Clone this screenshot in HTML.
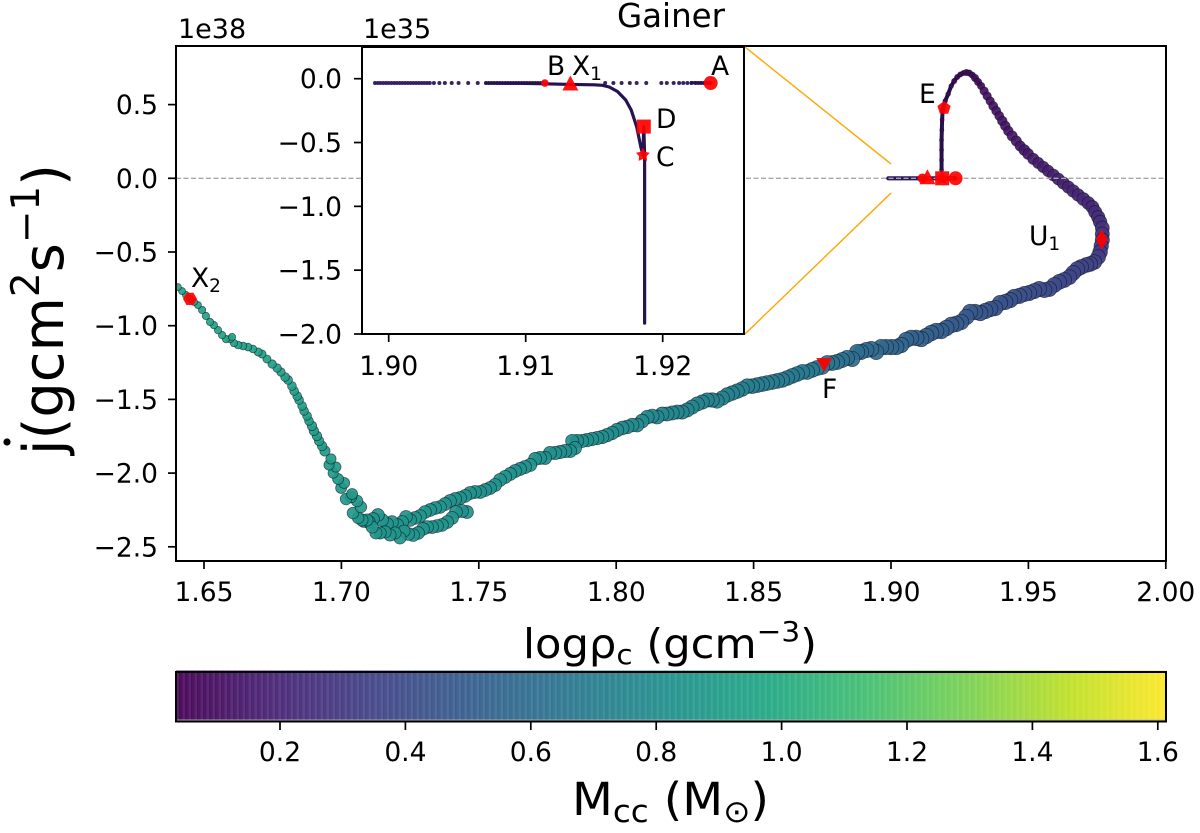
<!DOCTYPE html>
<html>
<head>
<meta charset="utf-8">
<title>Gainer</title>
<style>
html,body{margin:0;padding:0;background:#fff;}
svg{display:block;}
text{font-family:"DejaVu Sans","Liberation Sans",sans-serif;fill:#000;}
</style>
</head>
<body>
<svg id="chart" xmlns="http://www.w3.org/2000/svg" width="1200" height="833" viewBox="0 0 1200 833">
<defs><clipPath id="mainClip"><rect x="176" y="46" width="990" height="515"/></clipPath></defs>
<rect x="0" y="0" width="1200" height="833" fill="#fff"/>
<g id="mainSeries" clip-path="url(#mainClip)"></g>
<line id="zeroLine" x1="176" x2="1166" stroke="#a8a8a8" stroke-width="1.3" stroke-dasharray="5 2.5"/>
<g id="mainMarkers"></g>
<rect x="176" y="46" width="990" height="515" fill="none" stroke="#000" stroke-width="2"/>
<g id="mainTicks"></g>
<line x1="745" y1="47" x2="891" y2="164" stroke="#ffa500" stroke-width="1.4"/>
<line x1="745" y1="334" x2="891" y2="193" stroke="#ffa500" stroke-width="1.4"/>
<rect x="362" y="47" width="382" height="287" fill="#fff"/>
<g id="insetSeries"></g>
<g id="insetMarkers"></g>
<rect x="362" y="47" width="382" height="287" fill="none" stroke="#000" stroke-width="2"/>
<g id="insetTicks"></g>
<text x="671" y="27" font-size="32.5" text-anchor="middle">Gainer</text>
<text x="178" y="38" font-size="27">1e38</text>
<text x="363" y="38" font-size="27">1e35</text>
<text x="711" y="75" font-size="26.5">A</text>
<text x="547" y="75" font-size="26.5">B</text>
<text x="572" y="75" font-size="26.5">X<tspan font-size="18.5" dy="5">1</tspan></text>
<text x="656" y="128" font-size="26.5">D</text>
<text x="656" y="166" font-size="26.5">C</text>
<text x="191" y="287" font-size="26.5">X<tspan font-size="18.5" dy="5">2</tspan></text>
<text x="919" y="103" font-size="26.5">E</text>
<text x="1029" y="245" font-size="26.5">U<tspan font-size="18.5" dy="5">1</tspan></text>
<text x="822" y="398" font-size="26.5">F</text>
<text x="523" y="658" font-size="41" textLength="294" lengthAdjust="spacingAndGlyphs">logρ<tspan font-size="28" dy="6">c</tspan><tspan dy="-6"> (gcm</tspan><tspan font-size="28" dy="-17">−3</tspan><tspan dy="17">)</tspan></text>
<g>
<text transform="translate(63,455) rotate(-90)" font-size="56" textLength="291" lengthAdjust="spacingAndGlyphs">j(gcm<tspan font-size="39" dy="-24">2</tspan><tspan dy="24">s</tspan><tspan font-size="39" dy="-24">−1</tspan><tspan dy="24">)</tspan></text>
<circle cx="7" cy="442" r="3.6" fill="#000"/>
</g>
<g id="colorbar"></g>
<rect x="176" y="719.5" width="990" height="1.6" fill="#b9b4c0" opacity="0.85"/>
<rect x="176" y="672" width="990" height="49.5" fill="none" stroke="#000" stroke-width="2"/>
<g id="colorbarTicks"></g>
<text x="572" y="815" font-size="45" textLength="197" lengthAdjust="spacingAndGlyphs">M<tspan font-size="31" dy="7">cc</tspan><tspan dy="-7"> (M</tspan><tspan font-size="31" dy="7">⊙</tspan><tspan dy="-7">)</tspan></text>
</svg>
<script>
const logRho = [
1.9184,1.9184,1.9184,1.9184,1.9185,1.9186,1.9188,1.9197,1.9208,1.9219,
1.923,1.9241,1.9252,1.9263,1.9274,1.9285,1.9296,1.9306,1.9317,1.9328,
1.9339,1.935,1.9361,1.9372,1.9383,1.9394,1.9405,1.9416,1.9427,1.9441,
1.9456,1.947,1.9485,1.9499,1.9518,1.9536,1.9554,1.9572,1.9591,1.9609,
1.9627,1.9645,1.9663,1.9681,1.97,1.9718,1.9733,1.9743,1.9754,1.9761,
1.9769,1.9769,1.9769,1.9765,1.9761,1.9754,1.974,1.9725,1.9711,1.9692,
1.9678,1.9663,1.9649,1.963,1.9612,1.9594,1.9576,1.9558,1.9539,1.9521,
1.9503,1.9485,1.9467,1.9448,1.9434,1.9416,1.9397,1.9379,1.9361,1.9343,
1.9325,1.9306,1.9288,1.9274,1.9255,1.9237,1.9219,1.9201,1.9183,1.9164,
1.9146,1.9128,1.911,1.9092,1.9073,1.9055,1.9037,1.9019,1.9001,1.8982,
1.8964,1.8946,1.8928,1.891,1.8891,1.8877,1.8859,1.884,1.8822,1.8804,
1.8786,1.8768,1.8749,1.8731,1.8713,1.8695,1.8677,1.8658,1.864,1.8622,
1.8604,1.8586,1.8568,1.8549,1.8531,1.8513,1.8495,1.8477,1.8458,1.844,
1.8422,1.8404,1.8386,1.8367,1.8349,1.8331,1.8313,1.8295,1.8276,1.8258,
1.824,1.8222,1.8204,1.8185,1.8167,1.8149,1.8131,1.8113,1.8094,1.8076,
1.8058,1.804,1.8022,1.8003,1.7985,1.7967,1.7949,1.7931,1.7912,1.7894,
1.7876,1.7858,1.784,1.785,1.7832,1.7814,1.7796,1.7778,1.7759,1.7741,
1.7723,1.7705,1.7687,1.7668,1.765,1.7632,1.7614,1.7596,1.7577,1.7559,
1.7541,1.7523,1.7505,1.7486,1.7468,1.745,1.7432,1.7414,1.7395,1.7377,
1.7359,1.7341,1.7323,1.7304,1.7286,1.7268,1.725,1.7235,1.7221,1.7203,
1.7184,1.7166,1.7148,1.7133,1.7115,1.71,1.7082,1.7457,1.7439,1.7417,
1.7403,1.7385,1.7366,1.7348,1.733,1.7312,1.7297,1.7279,1.7261,1.7243,
1.7228,1.7213,1.7195,1.7177,1.7159,1.7141,1.7126,1.7112,1.7093,1.7075,
1.7061,1.7042,1.7071,1.7057,1.7035,1.7017,1.7039,1.6999,1.701,1.6988,
1.697,1.698,1.6955,1.6962,1.694,1.693,1.6919,1.6911,1.69,1.6893,
1.6882,1.6875,1.6864,1.6857,1.6846,1.6839,1.6828,1.682,1.6806,1.6795,
1.678,1.6766,1.6748,1.6729,1.6711,1.6697,1.6678,1.666,1.6642,1.6624,
1.6609,1.6595,1.658,1.6602,1.6566,1.6551,1.6536,1.6522,1.6507,1.6493,
1.6478,1.6464,1.6449,1.6434,1.642,1.6405
];
const jDot = [
0.056,0.124,0.192,0.26,0.328,0.396,0.463,0.524,0.572,0.626,
0.66,0.687,0.704,0.714,0.718,0.714,0.70,0.68,0.653,0.626,
0.592,0.558,0.524,0.49,0.457,0.423,0.389,0.355,0.321,0.287,
0.253,0.219,0.192,0.165,0.131,0.104,0.077,0.05,0.022,-0.005,
-0.032,-0.059,-0.086,-0.113,-0.141,-0.168,-0.195,-0.229,-0.263,-0.296,
-0.337,-0.378,-0.419,-0.459,-0.50,-0.534,-0.568,-0.581,-0.588,-0.602,
-0.615,-0.642,-0.67,-0.69,-0.703,-0.724,-0.751,-0.758,-0.751,-0.765,
-0.778,-0.785,-0.798,-0.805,-0.826,-0.839,-0.846,-0.88,-0.887,-0.90,
-0.914,-0.907,-0.907,-0.941,-0.975,-0.988,-0.995,-1.016,-1.036,-1.036,
-1.05,-1.07,-1.09,-1.083,-1.083,-1.097,-1.131,-1.145,-1.145,-1.145,
-1.145,-1.178,-1.158,-1.165,-1.178,-1.178,-1.226,-1.219,-1.233,-1.246,
-1.253,-1.253,-1.28,-1.287,-1.30,-1.314,-1.314,-1.328,-1.341,-1.355,
-1.368,-1.375,-1.382,-1.389,-1.396,-1.403,-1.41,-1.41,-1.43,-1.444,
-1.457,-1.47,-1.491,-1.511,-1.504,-1.504,-1.518,-1.531,-1.552,-1.572,
-1.586,-1.586,-1.592,-1.599,-1.599,-1.62,-1.613,-1.62,-1.647,-1.674,
-1.674,-1.687,-1.694,-1.708,-1.728,-1.742,-1.755,-1.762,-1.769,-1.776,
-1.782,-1.782,-1.782,-1.83,-1.85,-1.85,-1.857,-1.864,-1.864,-1.897,
-1.897,-1.904,-1.945,-1.959,-1.972,-1.986,-2.006,-2.026,-2.047,-2.081,
-2.101,-2.115,-2.128,-2.128,-2.135,-2.155,-2.169,-2.176,-2.189,-2.21,
-2.23,-2.237,-2.25,-2.264,-2.291,-2.304,-2.318,-2.297,-2.332,-2.352,
-2.332,-2.345,-2.318,-2.284,-2.311,-2.332,-2.325,-2.264,-2.257,-2.264,
-2.304,-2.332,-2.352,-2.359,-2.366,-2.366,-2.379,-2.406,-2.42,-2.413,
-2.393,-2.44,-2.406,-2.42,-2.399,-2.406,-2.406,-2.366,-2.318,-2.318,
-2.304,-2.271,-2.23,-2.189,-2.162,-2.176,-2.142,-2.101,-2.067,-2.04,
-2.0,-1.959,-1.945,-1.904,-1.85,-1.816,-1.782,-1.748,-1.714,-1.68,
-1.646,-1.612,-1.578,-1.544,-1.504,-1.477,-1.443,-1.409,-1.368,-1.348,
-1.314,-1.287,-1.26,-1.226,-1.192,-1.178,-1.158,-1.145,-1.138,-1.131,
-1.118,-1.091,-1.091,-1.077,-1.064,-1.03,-0.996,-0.975,-0.934,-0.893,
-0.86,-0.839,-0.818,-0.791,-0.765,-0.738
];
const mcc = [
0.05,0.05,0.05,0.05,0.05,0.05,0.06,0.06,0.06,0.06,
0.07,0.07,0.07,0.07,0.08,0.08,0.08,0.09,0.09,0.09,
0.10,0.10,0.10,0.11,0.11,0.11,0.12,0.12,0.12,0.13,
0.13,0.13,0.14,0.14,0.15,0.15,0.16,0.16,0.17,0.17,
0.18,0.18,0.19,0.19,0.20,0.20,0.21,0.22,0.23,0.24,
0.26,0.27,0.28,0.29,0.30,0.32,0.34,0.35,0.35,0.36,
0.36,0.37,0.37,0.38,0.38,0.39,0.39,0.40,0.40,0.41,
0.41,0.42,0.42,0.43,0.43,0.44,0.44,0.45,0.45,0.46,
0.46,0.47,0.47,0.48,0.48,0.49,0.49,0.50,0.50,0.51,
0.51,0.52,0.52,0.53,0.53,0.54,0.54,0.55,0.55,0.56,
0.56,0.57,0.58,0.58,0.59,0.60,0.60,0.61,0.62,0.63,
0.64,0.65,0.66,0.66,0.67,0.67,0.67,0.68,0.68,0.68,
0.69,0.69,0.69,0.70,0.70,0.70,0.71,0.71,0.71,0.72,
0.72,0.72,0.73,0.73,0.73,0.74,0.74,0.74,0.75,0.75,
0.75,0.76,0.76,0.76,0.77,0.77,0.77,0.78,0.78,0.78,
0.79,0.79,0.79,0.80,0.80,0.80,0.81,0.81,0.81,0.81,
0.82,0.82,0.82,0.82,0.82,0.82,0.82,0.82,0.82,0.82,
0.83,0.83,0.83,0.83,0.83,0.83,0.83,0.83,0.83,0.83,
0.84,0.84,0.84,0.84,0.84,0.84,0.84,0.84,0.84,0.84,
0.85,0.85,0.85,0.85,0.85,0.85,0.85,0.85,0.85,0.85,
0.85,0.85,0.85,0.85,0.85,0.85,0.85,0.84,0.84,0.84,
0.85,0.85,0.85,0.85,0.85,0.85,0.85,0.85,0.85,0.85,
0.86,0.86,0.86,0.86,0.86,0.86,0.86,0.86,0.86,0.86,
0.87,0.87,0.87,0.87,0.87,0.87,0.88,0.88,0.88,0.88,
0.89,0.89,0.89,0.89,0.89,0.90,0.90,0.90,0.90,0.90,
0.91,0.91,0.91,0.91,0.91,0.91,0.91,0.91,0.91,0.91,
0.92,0.92,0.92,0.93,0.93,0.93,0.94,0.94,0.94,0.94,
0.95,0.95,0.95,0.95,0.95,0.95,0.95,0.95,0.95,0.95,
0.96,0.96,0.96,0.96,0.96,0.96
];
const rowRho = [
1.8990,1.8992,1.8994,1.8996,1.8998,1.9000,1.9002,1.9004,1.9006,1.9008,
1.9010,1.9012,1.9014,1.9016,1.9018,1.9020,1.9022,1.9024,1.9026,1.9028,
1.9030,1.9033,1.9037,1.9041,1.9046,1.9051,1.9058,1.9065,1.9071,1.9073,
1.9075,1.9077,1.9079,1.9081,1.9083,1.9085,1.9087,1.9089,1.9091,1.9093,
1.9095,1.9097,1.9099,1.9101,1.9103,1.9105,1.9107,1.9109,1.9111,1.9113,
1.9158,1.9164,1.9170,1.9176,1.9181,1.9188,1.9199,1.9203,1.9208,1.9212,
1.9215,1.9218,1.9221,1.9224,1.9226,1.9228,1.9230,1.9232,1.9234,1.9235
];
const rowJ = [
-0.034,-0.034,-0.034,-0.034,-0.034,-0.034,-0.034,-0.034,-0.034,-0.034,
-0.034,-0.034,-0.034,-0.034,-0.034,-0.034,-0.034,-0.034,-0.034,-0.034,
-0.034,-0.034,-0.034,-0.034,-0.034,-0.034,-0.034,-0.034,-0.034,-0.034,
-0.034,-0.034,-0.034,-0.034,-0.034,-0.034,-0.034,-0.034,-0.034,-0.034,
-0.034,-0.034,-0.034,-0.034,-0.034,-0.034,-0.034,-0.034,-0.034,-0.034,
-0.034,-0.034,-0.034,-0.034,-0.034,-0.034,-0.034,-0.034,-0.034,-0.034,
-0.034,-0.034,-0.034,-0.034,-0.034,-0.034,-0.034,-0.034,-0.034,-0.034
];
const curveRho = [1.9071,1.9095,1.9114,1.9133,1.9150,1.9156,1.9161,1.9167,1.9173,1.9177,1.9181,1.9184,1.91855,1.91862,1.91868,1.91868,1.91868,1.91868,1.91868];
const curveJ = [-0.034,-0.036,-0.04,-0.045,-0.048,-0.052,-0.065,-0.10,-0.167,-0.245,-0.376,-0.533,-0.598,-0.375,-0.6,-0.9,-1.3,-1.7,-1.915];
const endRho = [1.9220,1.9235];
const endJ = [-0.032,-0.034];

const markerNames = ['A','B','X1','C','D','E','U1','F','X2'];
const markerShapes = ['circle','smallCircle','triangle','star','square','pentagon','diamond','triangleDown','hexagon'];
const markerRho = [1.9235,1.9114,1.91326,1.91855,1.91862,1.9193,1.9767,1.8757,1.6449];
const markerJMain = [0,0,0,0,0,0.476,-0.414,-1.26,-0.818];
const insetMarkerJ = [-0.034,-0.034,-0.045,-0.598,-0.375];

const mainXTicks = [1.65,1.70,1.75,1.80,1.85,1.90,1.95,2.00];
const mainXTickLabels = ['1.65','1.70','1.75','1.80','1.85','1.90','1.95','2.00'];
const mainYTicks = [0.5,0,-0.5,-1,-1.5,-2,-2.5];
const mainYTickLabels = ['0.5','0.0','−0.5','−1.0','−1.5','−2.0','−2.5'];
const insetXTicks = [1.90,1.91,1.92];
const insetXTickLabels = ['1.90','1.91','1.92'];
const insetYTicks = [0,-0.5,-1,-1.5,-2];
const insetYTickLabels = ['0.0','−0.5','−1.0','−1.5','−2.0'];
const barTicks = [0.2,0.4,0.6,0.8,1.0,1.2,1.4,1.6];
const barTickLabels = ['0.2','0.4','0.6','0.8','1.0','1.2','1.4','1.6'];

const NS = 'http://www.w3.org/2000/svg';
const mainX = v => 204 + (v - 1.65) * 2748;
const mainY = v => 178.3 - v * 147.4;
const insetX = v => 388.7 + (v - 1.90) * 13700;
const insetY = v => 78.7 - v * 127.65;
const barX = v => 280 + (v - 0.2) * 627;
const MCC_MIN = 0.034, MCC_MAX = 1.613;
const VIRIDIS = ['#440154','#482475','#414487','#355f8d','#2a788e','#21918c','#22a884','#44bf70','#7ad151','#bddf26','#fde725'];

function hexToRgb(h){return [parseInt(h.slice(1,3),16),parseInt(h.slice(3,5),16),parseInt(h.slice(5,7),16)];}
function viridis(m){
  const t = Math.max(0,Math.min(1,(m-MCC_MIN)/(MCC_MAX-MCC_MIN)))*10;
  const i = Math.min(9,Math.floor(t)), f = t-i;
  const a = hexToRgb(VIRIDIS[i]), b = hexToRgb(VIRIDIS[i+1]);
  return 'rgb('+a.map((c,k)=>Math.round(c+(b[k]-c)*f)).join(',')+')';
}
function radiusFor(m){
  const ks=[0.05,0.07,0.10,0.14,0.2,0.3,0.5,0.7,0.85,0.88,0.91,0.96];
  const rs=[2,2.6,4.2,5.4,6.4,7.3,7.8,7.4,6.4,5.5,4.4,3.5];
  for(let i=0;i<ks.length-1;i++){
    if(m<=ks[i+1]){const f=Math.max(0,(m-ks[i])/(ks[i+1]-ks[i]));return rs[i]+(rs[i+1]-rs[i])*f;}
  }
  return rs[rs.length-1];
}
function el(parent,tag,attrs){
  const e=document.createElementNS(NS,tag);
  for(const k in attrs){e.setAttribute(k,attrs[k]);}
  parent.appendChild(e);
  return e;
}
function pts(xs,ys,fx,fy){return xs.map((v,i)=>fx(v).toFixed(2)+','+fy(ys[i]).toFixed(2)).join(' ');}
function polygonPoints(cx,cy,r,n,rot){
  const o=[];
  for(let i=0;i<n;i++){const a=rot+i*2*Math.PI/n;o.push((cx+r*Math.cos(a)).toFixed(2)+','+(cy+r*Math.sin(a)).toFixed(2));}
  return o.join(' ');
}
function starPoints(cx,cy,r){
  const o=[];
  for(let i=0;i<10;i++){const a=-Math.PI/2+i*Math.PI/5;const q=i%2?r*0.55:r;o.push((cx+q*Math.cos(a)).toFixed(2)+','+(cy+q*Math.sin(a)).toFixed(2));}
  return o.join(' ');
}
function drawMarker(parent,shape,cx,cy,big,name){
  let e;
  const fill={fill:'#ff0000','fill-opacity':0.92};
  if(shape==='circle'){e=el(parent,'circle',Object.assign({cx:cx,cy:cy,r:7},fill));}
  else if(shape==='smallCircle'){e=el(parent,'circle',Object.assign({cx:cx,cy:cy,r:big?4.8:3.8},fill));}
  else if(shape==='triangle'){e=el(parent,'polygon',Object.assign({points:cx+','+(cy-9)+' '+(cx+8)+','+(cy+6)+' '+(cx-8)+','+(cy+6)},fill));}
  else if(shape==='triangleDown'){e=el(parent,'polygon',Object.assign({points:(cx-8)+','+(cy-6)+' '+(cx+8)+','+(cy-6)+' '+cx+','+(cy+8)},fill));}
  else if(shape==='square'){e=el(parent,'rect',Object.assign({x:cx-7,y:cy-7,width:14,height:14},fill));}
  else if(shape==='star'){e=el(parent,'polygon',Object.assign({points:starPoints(cx,cy,7.2)},fill));}
  else if(shape==='pentagon'){e=el(parent,'polygon',Object.assign({points:polygonPoints(cx,cy,7,5,-Math.PI/2)},fill));}
  else if(shape==='hexagon'){e=el(parent,'polygon',Object.assign({points:polygonPoints(cx,cy,7,6,0)},fill));}
  else {e=el(parent,'polygon',Object.assign({points:cx+','+(cy-10)+' '+(cx+6)+','+cy+' '+cx+','+(cy+10)+' '+(cx-6)+','+cy},fill));}
  
  
}
function drawAxisTicks(group,xTicks,xLabels,fx,yTicks,yLabels,fy,bottom,left,xBase,yRight){
  xTicks.forEach((v,i)=>{
    const t=el(group,'line',{x1:fx(v),x2:fx(v),y1:bottom,y2:bottom+8,stroke:'#000','stroke-width':1.7});
    
    
    const l=el(group,'text',{x:fx(v),y:xBase,'font-size':26.5,'text-anchor':'middle'});
    l.textContent=xLabels[i];
    
    
  });
  yTicks.forEach((v,i)=>{
    const t=el(group,'line',{x1:left-8,x2:left,y1:fy(v),y2:fy(v),stroke:'#000','stroke-width':1.7});
    
    
    const l=el(group,'text',{x:yRight,y:fy(v)+9.5,'font-size':26.5,'text-anchor':'end'});
    l.textContent=yLabels[i];
    
    
  });
}

const mainG=document.getElementById('mainSeries');
const rowLine=el(mainG,'polyline',{points:pts(rowRho,rowJ.map(v=>v/1000),mainX,mainY),fill:'none',stroke:'#2a1659','stroke-width':4.2,'stroke-linecap':'round'});


const riseLine=el(mainG,'polyline',{points:pts(logRho.slice(0,20),jDot.slice(0,20),mainX,mainY),fill:'none',stroke:'#26124f','stroke-width':4});


logRho.forEach((v,i)=>{
  const c=el(mainG,'circle',{cx:mainX(v).toFixed(2),cy:mainY(jDot[i]).toFixed(2),r:radiusFor(mcc[i]).toFixed(2),fill:viridis(mcc[i]),'fill-opacity':0.92,stroke:'#0a1020','stroke-opacity':0.6,'stroke-width':0.8});
  
  
});
const z=document.getElementById('zeroLine');
z.setAttribute('y1',mainY(0));
z.setAttribute('y2',mainY(0));

const mm=document.getElementById('mainMarkers');
markerNames.forEach((n,i)=>{
  drawMarker(mm,markerShapes[i],mainX(markerRho[i]),mainY(markerJMain[i]),true,'main-marker-'+n.toLowerCase());
});

const insetG=document.getElementById('insetSeries');
rowRho.forEach((v,i)=>{
  const c=el(insetG,'circle',{cx:insetX(v).toFixed(2),cy:insetY(rowJ[i]).toFixed(2),r:2,fill:'#2f1660','fill-opacity':0.95});
  
  
});
const cv=el(insetG,'polyline',{points:pts(curveRho,curveJ,insetX,insetY),fill:'none',stroke:'#26124f','stroke-width':3.2,'stroke-linecap':'round','stroke-linejoin':'round'});


const endSeg=el(insetG,'polyline',{points:pts(endRho,endJ,insetX,insetY),fill:'none',stroke:'#26124f','stroke-width':3.2});


const im=document.getElementById('insetMarkers');
insetMarkerJ.forEach((j,i)=>{
  drawMarker(im,markerShapes[i],insetX(markerRho[i]),insetY(j),false,'inset-marker-'+markerNames[i].toLowerCase());
});

drawAxisTicks(document.getElementById('mainTicks'),mainXTicks,mainXTickLabels,mainX,mainYTicks,mainYTickLabels,mainY,561,176,601,158);
drawAxisTicks(document.getElementById('insetTicks'),insetXTicks,insetXTickLabels,insetX,insetYTicks,insetYTickLabels,insetY,334,362,375,342);

const cb=document.getElementById('colorbar');
for(let px=176;px<1166;px+=3){
  const m=MCC_MIN+(px-176)/990*(MCC_MAX-MCC_MIN);
  const r=el(cb,'rect',{x:px,y:670.5,width:3.4,height:50,fill:viridis(m),'fill-opacity':(px%6===2)?0.88:0.95});
  
  
}
const cbt=document.getElementById('colorbarTicks');
barTicks.forEach((v,i)=>{
  const t=el(cbt,'line',{x1:barX(v),x2:barX(v),y1:721.5,y2:730,stroke:'#000','stroke-width':1.7});
  
  
  const l=el(cbt,'text',{x:barX(v),y:761,'font-size':26.5,'text-anchor':'middle'});
  l.textContent=barTickLabels[i];
  
  
});
</script>
</body>
</html>
